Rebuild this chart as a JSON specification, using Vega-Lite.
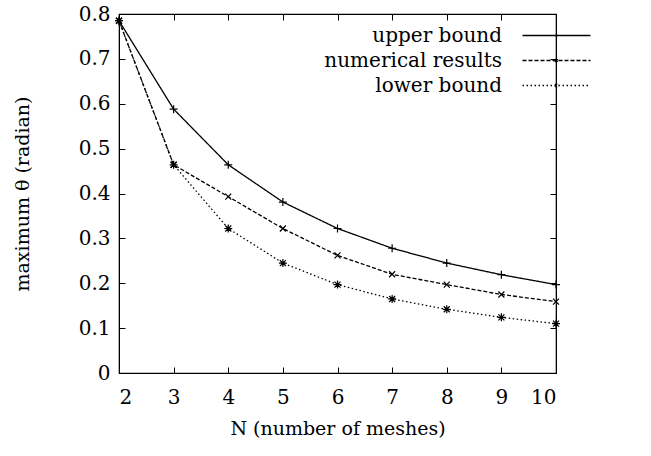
{
  "$schema": "https://vega.github.io/schema/vega-lite/v6.json",
  "width": 437,
  "height": 359,
  "autosize": {"type": "none"},
  "padding": {"left": 119, "top": 14, "right": 95, "bottom": 83},
  "background": "white",
  "config": {
    "font": "DejaVu Serif",
    "view": {"stroke": "black", "strokeWidth": 1.2},
    "axis": {
      "labelFont": "DejaVu Serif", "titleFont": "DejaVu Serif",
      "labelFontSize": 20, "titleFontSize": 19, "titleFontWeight": "normal",
      "labelColor": "black", "titleColor": "black",
      "domainColor": "black", "tickColor": "black", "grid": false,
      "tickSize": -6, "tickWidth": 1
    },
    "legend": {"labelFont": "DejaVu Serif", "labelFontSize": 20, "labelColor": "black", "labelLimit": 400}
  },
  "data": {
    "values": [
      {"N": 2, "series": "upper bound", "theta": 0.785},
      {"N": 3, "series": "upper bound", "theta": 0.588},
      {"N": 4, "series": "upper bound", "theta": 0.464},
      {"N": 5, "series": "upper bound", "theta": 0.381},
      {"N": 6, "series": "upper bound", "theta": 0.322},
      {"N": 7, "series": "upper bound", "theta": 0.278},
      {"N": 8, "series": "upper bound", "theta": 0.245},
      {"N": 9, "series": "upper bound", "theta": 0.219},
      {"N": 10, "series": "upper bound", "theta": 0.197},
      {"N": 2, "series": "numerical results", "theta": 0.785},
      {"N": 3, "series": "numerical results", "theta": 0.464},
      {"N": 4, "series": "numerical results", "theta": 0.393},
      {"N": 5, "series": "numerical results", "theta": 0.322},
      {"N": 6, "series": "numerical results", "theta": 0.262},
      {"N": 7, "series": "numerical results", "theta": 0.220},
      {"N": 8, "series": "numerical results", "theta": 0.197},
      {"N": 9, "series": "numerical results", "theta": 0.175},
      {"N": 10, "series": "numerical results", "theta": 0.159},
      {"N": 2, "series": "lower bound", "theta": 0.785},
      {"N": 3, "series": "lower bound", "theta": 0.464},
      {"N": 4, "series": "lower bound", "theta": 0.322},
      {"N": 5, "series": "lower bound", "theta": 0.245},
      {"N": 6, "series": "lower bound", "theta": 0.197},
      {"N": 7, "series": "lower bound", "theta": 0.165},
      {"N": 8, "series": "lower bound", "theta": 0.142},
      {"N": 9, "series": "lower bound", "theta": 0.124},
      {"N": 10, "series": "lower bound", "theta": 0.110}
    ]
  },
  "layer": [
    {
      "mark": {"type": "line", "color": "black", "strokeWidth": 1.3},
      "encoding": {
        "x": {"field": "N", "type": "quantitative", "scale": {"domain": [2, 10], "nice": false},
              "axis": {"title": "N (number of meshes)", "values": [2,3,4,5,6,7,8,9,10], "labelPadding": 20, "titlePadding": 12}},
        "y": {"field": "theta", "type": "quantitative", "scale": {"domain": [0, 0.8], "nice": false},
              "axis": {"title": "maximum θ (radian)", "values": [0,0.1,0.2,0.3,0.4,0.5,0.6,0.7,0.8], "format": "~g", "labelPadding": 15, "titlePadding": 46}},
        "strokeDash": {"field": "series", "type": "nominal",
          "scale": {"domain": ["upper bound", "numerical results", "lower bound"], "range": [[1,0],[4,2],[1.5,2.5]]},
          "legend": {"title": null, "orient": "none", "legendX": 424, "legendY": 8, "padding": 0,
                     "symbolType": "M-2.72,0L2.72,0", "symbolSize": 625, "symbolStrokeWidth": 1.3, "symbolStrokeColor": "black", "symbolFillColor": "transparent",
                     "rowPadding": 1, "labelAlign": "right", "labelOffset": -68, "labelLimit": 400,
                     "encode": {"symbols": {"update": {"shape": {"signal": "datum.value === 'upper bound' ? 'M-2.72,0L2.72,0M0,-0.16L0,0.16' : datum.value === 'numerical results' ? 'M-2.72,0L2.72,0M-0.12,-0.12L0.12,0.12M-0.12,0.12L0.12,-0.12' : 'M-2.72,0L2.72,0M0,-0.16L0,0.16M-0.12,-0.12L0.12,0.12M-0.12,0.12L0.12,-0.12'"}}}}}}
      }
    },
    {
      "transform": [{"filter": "datum.series === 'upper bound'"}],
      "mark": {"type": "point", "filled": false, "color": "black", "strokeWidth": 1.2, "size": 64, "opacity": 1, "shape": "M-1,0L1,0M0,-1L0,1"},
      "encoding": {
        "x": {"field": "N", "type": "quantitative", "scale": {"domain": [2, 10], "nice": false},
              "axis": {"orient": "top", "values": [2,3,4,5,6,7,8,9,10], "labels": false, "title": null}},
        "y": {"field": "theta", "type": "quantitative", "scale": {"domain": [0, 0.8], "nice": false},
              "axis": {"orient": "right", "values": [0,0.1,0.2,0.3,0.4,0.5,0.6,0.7,0.8], "labels": false, "title": null}}
      }
    },
    {
      "transform": [{"filter": "datum.series === 'numerical results'"}],
      "mark": {"type": "point", "filled": false, "color": "black", "strokeWidth": 1.2, "size": 64, "opacity": 1, "shape": "M-0.75,-0.75L0.75,0.75M-0.75,0.75L0.75,-0.75"},
      "encoding": {
        "x": {"field": "N", "type": "quantitative", "scale": {"domain": [2, 10], "nice": false}, "axis": null},
        "y": {"field": "theta", "type": "quantitative", "scale": {"domain": [0, 0.8], "nice": false}, "axis": null}
      }
    },
    {
      "transform": [{"filter": "datum.series === 'lower bound'"}],
      "mark": {"type": "point", "filled": false, "color": "black", "strokeWidth": 1.2, "size": 64, "opacity": 1, "shape": "M-1,0L1,0M0,-1L0,1M-0.75,-0.75L0.75,0.75M-0.75,0.75L0.75,-0.75"},
      "encoding": {
        "x": {"field": "N", "type": "quantitative", "scale": {"domain": [2, 10], "nice": false}, "axis": null},
        "y": {"field": "theta", "type": "quantitative", "scale": {"domain": [0, 0.8], "nice": false}, "axis": null}
      }
    }
  ],
  "resolve": {"scale": {"x": "independent", "y": "independent"}}
}
